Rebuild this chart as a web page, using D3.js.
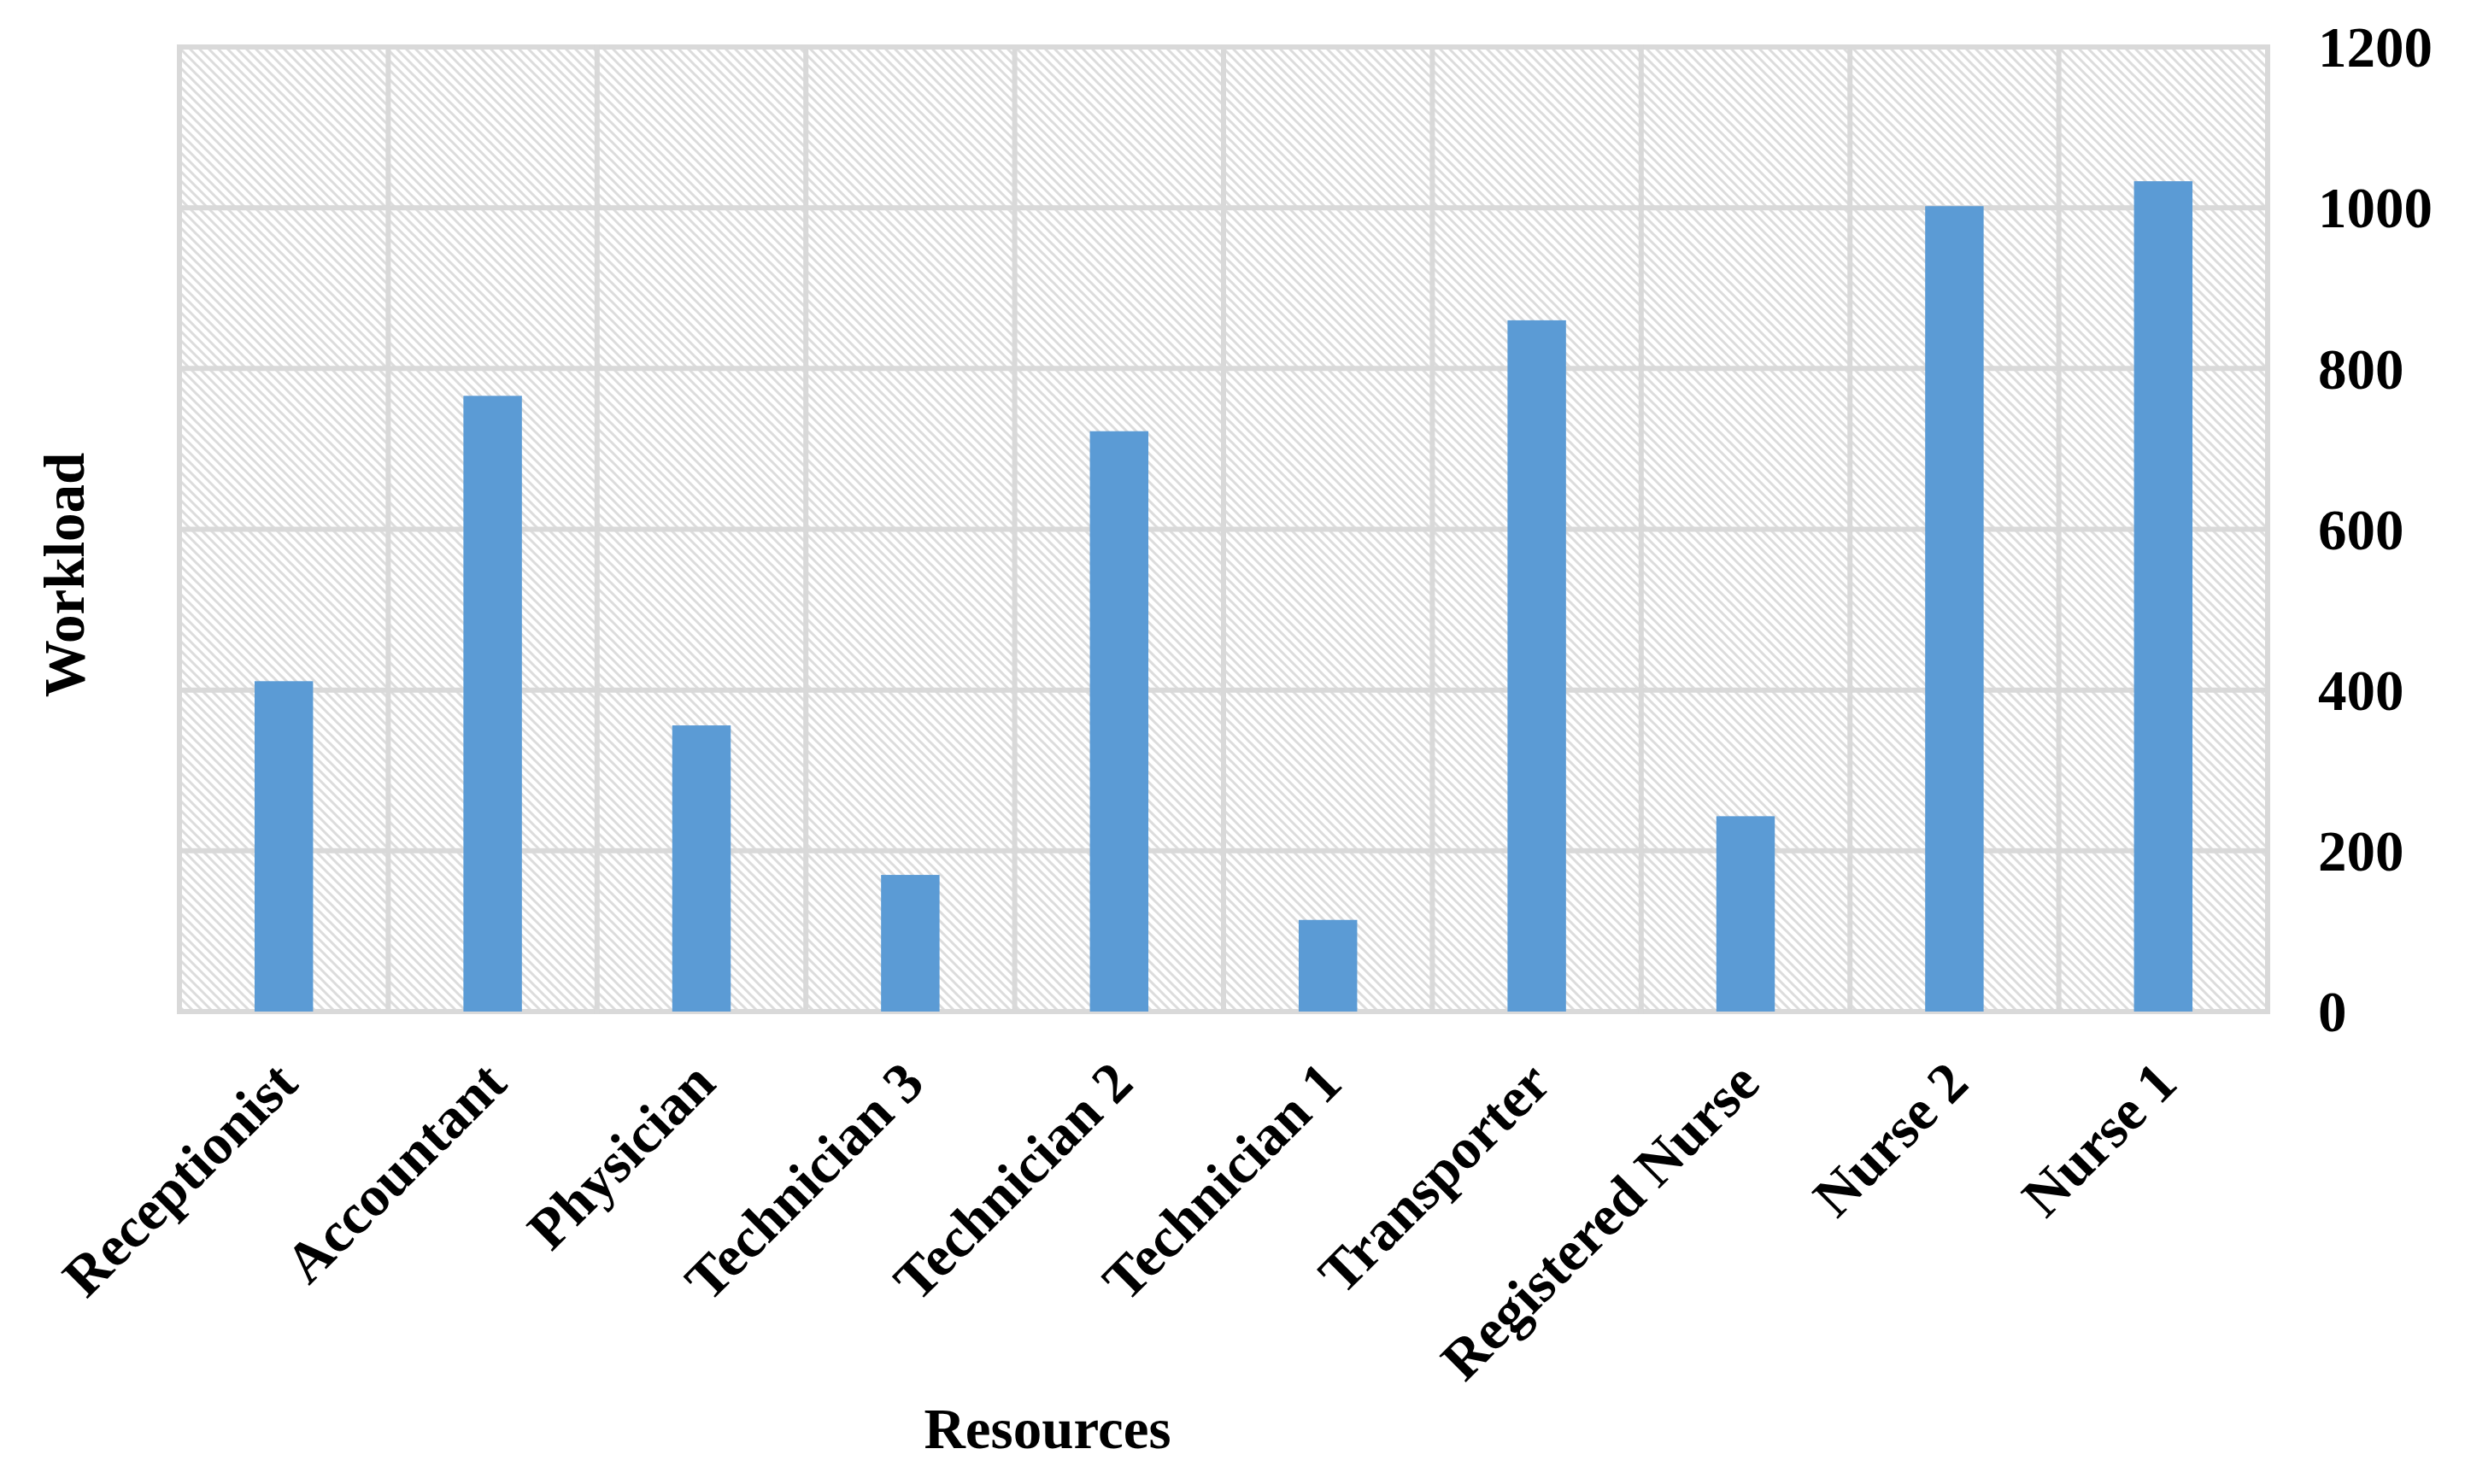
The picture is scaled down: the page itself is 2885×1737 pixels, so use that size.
<!DOCTYPE html>
<html>
<head>
<meta charset="utf-8">
<script src="https://cdn.jsdelivr.net/npm/d3@7"></script>
<style>
  body { margin: 0; background: #fff; }
  text { font-family: "Liberation Serif", "Times New Roman", serif; font-weight: bold; fill: #000; }
</style>
</head>
<body>
<svg id="chart" width="2885" height="1737"></svg>
<script>
const categories = ["Receptionist", "Accountant", "Physician", "Technician 3", "Technician 2",
  "Technician 1", "Transporter", "Registered Nurse", "Nurse 2", "Nurse 1"]
const workload = [411, 766, 356, 170, 722, 114, 860, 243, 1002, 1033]
const yTicks = [0, 200, 400, 600, 800, 1000, 1200]

const plotLeft = 210, plotRight = 2654, plotTop = 55, plotBottom = 1184
const gridColor = "#d9d9d9"
const fontSize = 67

const svg = d3.select("#chart")

// hatched plot background
const defs = svg.append("defs")
const pat = defs.append("pattern")
  .attr("id", "hatch")
  .attr("width", 11)
  .attr("height", 11)
  .attr("patternUnits", "userSpaceOnUse")
pat.append("rect").attr("width", 11).attr("height", 11).attr("fill", "#fff")
pat.append("path")
  .attr("d", "M-2,9 L2,13 M0,0 L11,11 M9,-2 L13,2")
  .attr("stroke", "#dcdcdc")
  .attr("stroke-width", 3)

const x = d3.scaleBand()
  .domain(categories)
  .range([plotLeft, plotRight])
  .paddingInner(0.72)
  .paddingOuter(0.36)

const y = d3.scaleLinear()
  .domain([0, 1200])
  .range([plotBottom, plotTop])

svg.append("rect")
  .attr("x", plotLeft)
  .attr("y", plotTop)
  .attr("width", plotRight - plotLeft)
  .attr("height", plotBottom - plotTop)
  .attr("fill", "url(#hatch)")

// grid
const step = x.step()
const grid = svg.append("g").attr("stroke", gridColor).attr("stroke-width", 6)
grid.selectAll("line.h")
  .data(yTicks)
  .enter().append("line")
  .attr("class", "h")
  .attr("x1", plotLeft - 3)
  .attr("x2", plotRight + 3)
  .attr("y1", d => y(d))
  .attr("y2", d => y(d))
grid.selectAll("line.v")
  .data(d3.range(categories.length + 1))
  .enter().append("line")
  .attr("class", "v")
  .attr("x1", i => plotLeft + i * step)
  .attr("x2", i => plotLeft + i * step)
  .attr("y1", plotTop - 3)
  .attr("y2", plotBottom + 3)

// bars
svg.selectAll("rect.bar")
  .data(workload)
  .enter().append("rect")
  .attr("class", "bar")
  .attr("x", (d, i) => x(categories[i]))
  .attr("width", x.bandwidth())
  .attr("y", d => y(d))
  .attr("height", d => y(0) - y(d))
  .attr("fill", "#5b9bd5")

// right axis labels
const yAxis = svg.append("g")
  .attr("transform", `translate(${2713},0)`)
  .call(d3.axisRight(y).tickValues(yTicks).tickFormat(d3.format("d")).tickSize(0).tickPadding(0))
yAxis.select(".domain").remove()
yAxis.selectAll("text")
  .attr("font-size", fontSize)
  .attr("font-family", null)
  .attr("text-anchor", "start")
  .attr("x", 0)
  .attr("dy", "0.34em")

// category labels
const xAxis = svg.append("g")
  .attr("transform", `translate(-14,${plotBottom + 54})`)
  .call(d3.axisBottom(x).tickSize(0).tickPadding(0))
xAxis.select(".domain").remove()
xAxis.selectAll("text")
  .attr("font-size", fontSize)
  .attr("font-family", null)
  .attr("text-anchor", "end")
  .attr("y", 0)
  .attr("dy", "0.7em")
  .attr("transform", "rotate(-45)")

// axis titles
svg.append("text")
  .attr("x", 1226)
  .attr("y", 1695)
  .attr("text-anchor", "middle")
  .attr("font-size", fontSize)
  .text("Resources")

svg.append("text")
  .attr("transform", "translate(98,673) rotate(-90)")
  .attr("text-anchor", "middle")
  .attr("font-size", fontSize)
  .text("Workload")
</script>
</body>
</html>
